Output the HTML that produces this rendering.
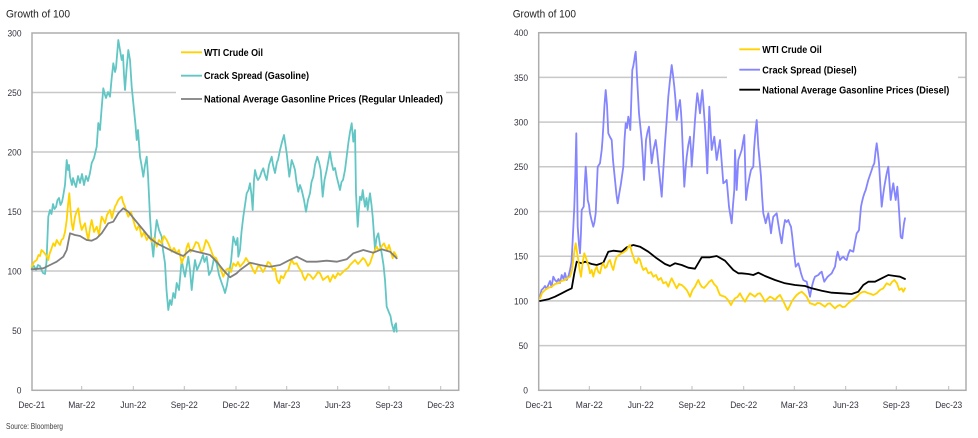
<!DOCTYPE html>
<html><head><meta charset="utf-8"><style>
html,body{margin:0;padding:0;background:#fff;}
svg{display:block;font-family:"Liberation Sans",Arial,sans-serif;}
.tk{font-size:9.5px;fill:#33333f;}
.lg{font-size:10px;font-weight:bold;fill:#000;}
.ln{fill:none;stroke-linejoin:round;stroke-linecap:round;}
</style></head><body>
<svg width="978" height="438" viewBox="0 0 978 438" xmlns="http://www.w3.org/2000/svg">
<rect width="978" height="438" fill="#fff"/>

<!-- ================= LEFT CHART ================= -->
<text x="6" y="17.3" font-size="11" fill="#222" textLength="64" lengthAdjust="spacingAndGlyphs">Growth of 100</text>
<g stroke="#c8c8c8" stroke-width="1.5">
<line x1="32" y1="92.5" x2="458.7" y2="92.5"/>
<line x1="32" y1="152" x2="458.7" y2="152"/>
<line x1="32" y1="211.5" x2="458.7" y2="211.5"/>
<line x1="32" y1="271" x2="458.7" y2="271"/>
<line x1="32" y1="330.7" x2="458.7" y2="330.7"/>
</g>
<rect x="32" y="33" width="426.7" height="357.3" fill="none" stroke="#adadad" stroke-width="1.5"/>
<g stroke="#bdbdbd" stroke-width="1">
<line x1="81.7" y1="386" x2="81.7" y2="390"/><line x1="133.3" y1="386" x2="133.3" y2="390"/>
<line x1="184.3" y1="386" x2="184.3" y2="390"/><line x1="236" y1="386" x2="236" y2="390"/>
<line x1="286.7" y1="386" x2="286.7" y2="390"/><line x1="337.7" y1="386" x2="337.7" y2="390"/>
<line x1="389" y1="386" x2="389" y2="390"/><line x1="440.7" y1="386" x2="440.7" y2="390"/>
</g>
<g class="tk" text-anchor="end">
<text x="21.5" y="36.4" textLength="14" lengthAdjust="spacingAndGlyphs">300</text>
<text x="21.5" y="95.9" textLength="14" lengthAdjust="spacingAndGlyphs">250</text>
<text x="21.5" y="155.4" textLength="14" lengthAdjust="spacingAndGlyphs">200</text>
<text x="21.5" y="214.9" textLength="14" lengthAdjust="spacingAndGlyphs">150</text>
<text x="21.5" y="274.4" textLength="14" lengthAdjust="spacingAndGlyphs">100</text>
<text x="21.5" y="334.1" textLength="9.4" lengthAdjust="spacingAndGlyphs">50</text>
<text x="21.5" y="393.7" textLength="4.7" lengthAdjust="spacingAndGlyphs">0</text>
</g>
<g class="tk" text-anchor="middle">
<text x="31.7" y="408" textLength="26.7" lengthAdjust="spacingAndGlyphs">Dec-21</text>
<text x="81.7" y="408" textLength="27" lengthAdjust="spacingAndGlyphs">Mar-22</text>
<text x="133.3" y="408" textLength="26" lengthAdjust="spacingAndGlyphs">Jun-22</text>
<text x="184.3" y="408" textLength="27" lengthAdjust="spacingAndGlyphs">Sep-22</text>
<text x="236" y="408" textLength="27" lengthAdjust="spacingAndGlyphs">Dec-22</text>
<text x="286.7" y="408" textLength="27" lengthAdjust="spacingAndGlyphs">Mar-23</text>
<text x="337.7" y="408" textLength="26" lengthAdjust="spacingAndGlyphs">Jun-23</text>
<text x="389" y="408" textLength="27" lengthAdjust="spacingAndGlyphs">Sep-23</text>
<text x="440.7" y="408" textLength="27" lengthAdjust="spacingAndGlyphs">Dec-23</text>
</g>

<!-- teal crack spread gasoline -->
<polyline class="ln" stroke="#62c6c4" stroke-width="1.8" points="31.7,268 34,266 36,270 38,265 40,266 42,271 43,273 45,274 46.5,262 48.3,216.7 50,210 51.5,214 53,204 54.5,209 56,207 57.5,200 59,198 60.5,205 62,202 63,197 65,185 66.7,160 68,170 69,165 70,176.7 72,185 73,178 74.5,183 76,187 78,176 80,183 82,174 84,185 86,176 88,181 90,173 91.7,163 94,158 96.7,146.7 98.3,123 100,130 101.5,110 103.3,88.3 105,95 106,98 108,92 110,96.7 111.5,80 113.3,63.3 115,72 116,68 118.3,40 120,50 121.7,60 123,55 124,75 125,90 126.5,70 128.3,50 130,60 131.7,86.7 134,110 135.5,125 136.7,140 138,130 140,156.7 141.5,165 143.3,176.7 145,165 146.7,156.7 148,175 150,216.7 151.5,240 153.3,256.7 155,235 156.7,220 159,230 161.7,236.7 163,250 165,263.3 166.5,290 168.3,310 170,300 171.5,305 173.3,293 175,298 176.7,283 179,290 181.7,260 183.5,270 185,276.7 188.3,256.7 190,270 191.7,290 193.5,272 195,260 197,270 200,263.3 203,255 204.5,262 206.7,256.7 209,275 211.7,270 214,258 216.7,263.3 219,275 221.7,283 223.5,288 225,293 227,285 228.3,276.7 231,262 233.3,236.7 236,245 237.5,238 238.3,256.7 240,250 241.5,232 243.3,216.7 245,205 246.7,193.3 248.5,190 250,183.3 251.5,195 252.7,210 254,180 255,170 257,178 258,180 260,176.7 261.5,172 263.3,168.3 265,175 266.7,180 269,165 271.7,156.7 273,165 275,173 277,162 278,160 280,150 282,142 284,135 285.5,145 286.7,153.3 288,165 289.3,176.7 291.7,160 293.5,165 295,170 296.5,182 298.3,191.7 300,185 301.7,190 304,200 306,211.7 308,200 310,193.3 311.5,182 313.3,176.7 315,165 317.3,156.7 319,162 320.7,170 322.7,196.7 324.5,180 326.7,170 328.5,160 330,151.7 331.5,162 333.3,170 335,168 336.7,176.7 338.5,184 340,190 341.5,182 343,180 345,170 346.5,158 348.3,143.3 350,132 351.7,123.3 353.3,141.7 355,130 356,193.3 357.7,226.7 359,208 360,196.7 361.5,200 362.7,190 364,200 365,206.7 366.5,198 367.7,210 369,200 370,193.3 371.5,205 372.7,216.7 374,235 375,250 376.5,238 378.3,233.3 380,245 381.7,253.3 383.5,265 385,280 386.7,306.7 388,310 389.3,313.3 390.5,316 391.7,323.3 393,328 394,331.7 395,325 396,323.3 396.7,331.7"/>
<!-- yellow WTI -->
<polyline class="ln" stroke="#ffd200" stroke-width="1.8" points="31.7,266.7 34,262 36.7,260 38.5,255 40,256 41.5,250 43.3,251.7 46,255 48.3,260 49.5,254 51,250 53.3,243.3 55,246 56.7,240 58.5,243 60,245 61.5,240 63.3,238.3 65,232 66.7,220 68,205 69.3,193.3 70.5,210 71.7,223.3 73,230 75,216.7 76.5,212 78.3,208.3 80,222 81.7,230 83.5,226 85,223.3 86.5,232 88.3,240 90,228 91.7,220 94,232 96.7,226.7 99,235 100.5,224 101.7,216.7 103.5,220 105,223.3 107,215 110,210 112,218 113.5,212 115,206.7 116.5,204 118.3,200 120,198 121.7,196.7 123,202 125,206.7 126.5,212 128.3,216.7 131,212 133.3,220 135,226 136.7,230 139,225 141.7,236.7 144,232 146.7,240 149,236 151.7,241.7 154,238 156.7,246.7 159,240 161.7,243.3 164,236 166.7,240 169,245 171.7,251.7 174,248 176.7,253.3 179,250 181.7,263.3 183.5,258 185,256.7 186.5,248 188.3,243.3 190.5,252 193.3,248.3 196,242 198.3,243.3 201,252 203.3,250 206,240 208.3,243.3 211,250 213.3,256.7 216,258 218.3,263.3 221,270 223.3,276.7 226,270 228.3,268.3 231,272 233.3,263.3 236,266 238,262 240,266.7 244,262 246,258 248.3,261.7 251,265 253,270 255,273.3 258,266 260,266.7 263,272 265,268.3 268,262 270,263.3 273,270 275,268.3 277,280 279.3,283.3 281,276 283.3,278.3 286,272 288.3,270 290,264 291.7,260 294,264 296.7,263.3 299,268 301.7,271.7 303,276 305,280 308,274 310,275 313,279 315,276.7 318,272 320,273.3 323,280 325,278.3 328,276 330,281.7 333,275 335,278.3 338,273 340,275 343,272 345,270 348,268 350,265 353,262 355,260 358,264 360,261.7 363,258 365,260 368,266 370,263.3 373.3,253.3 375,250 376.7,246.7 378.5,250 380.7,248.3 382.5,245 384,243.3 385.5,247 387.3,250 389,245 390,248.3 391.5,254 392.7,258.3 394,252 395,253.3 396.7,256.7"/>
<!-- gray national avg -->
<polyline class="ln" stroke="#7f7f7f" stroke-width="1.8" points="31.7,269.3 43.3,268.3 50,265 56.7,261.7 63.3,256.7 66.7,250 70,233.3 75,235 80,236 86.7,240 91.7,240.7 96.7,238.3 101.7,233.3 108.3,223.3 113.3,221.7 118.3,213.3 123.3,208.3 128.3,211.7 135,220 143.3,230 150,238.3 156.7,243.3 166.7,248.3 176.7,253.3 183.3,256 190,250 196.7,251.7 203.3,253.3 210,255 216.7,261.7 223.3,270 230,277.3 236.7,273.3 240,270 250,262.7 260,265 270,266.7 280,265 288.3,260.7 296.7,256.7 306.7,261.7 316.7,261.7 326.7,260.7 336.7,261.7 346.7,259.3 353.3,253.3 363.3,250 373.3,252.7 381.7,249.3 390,251.7 396.7,258.3"/>

<!-- legend left -->
<rect x="176" y="40" width="270" height="66" fill="#fff"/>
<line x1="181" y1="52.3" x2="202" y2="52.3" stroke="#ffd200" stroke-width="1.8"/>
<line x1="181" y1="75.7" x2="202" y2="75.7" stroke="#62c6c4" stroke-width="1.8"/>
<line x1="181" y1="99" x2="202" y2="99" stroke="#7f7f7f" stroke-width="1.8"/>
<text class="lg" x="204" y="55.9" textLength="59" lengthAdjust="spacingAndGlyphs">WTI Crude Oil</text>
<text class="lg" x="204" y="79.2" textLength="105" lengthAdjust="spacingAndGlyphs">Crack Spread (Gasoline)</text>
<text class="lg" x="204" y="102.4" textLength="239" lengthAdjust="spacingAndGlyphs">National Average Gasonline Prices (Regular Unleaded)</text>

<text x="6" y="429" font-size="8" fill="#444" textLength="57" lengthAdjust="spacingAndGlyphs">Source: Bloomberg</text>

<!-- ================= RIGHT CHART ================= -->
<text x="512.7" y="17.3" font-size="11" fill="#222" textLength="63.3" lengthAdjust="spacingAndGlyphs">Growth of 100</text>
<g stroke="#c8c8c8" stroke-width="1.5">
<line x1="538.7" y1="77.4" x2="966" y2="77.4"/>
<line x1="538.7" y1="122.1" x2="966" y2="122.1"/>
<line x1="538.7" y1="166.8" x2="966" y2="166.8"/>
<line x1="538.7" y1="211.5" x2="966" y2="211.5"/>
<line x1="538.7" y1="256.2" x2="966" y2="256.2"/>
<line x1="538.7" y1="300.9" x2="966" y2="300.9"/>
<line x1="538.7" y1="345.6" x2="966" y2="345.6"/>
</g>
<rect x="538.7" y="32.7" width="427.3" height="357.6" fill="none" stroke="#adadad" stroke-width="1.5"/>
<g stroke="#bdbdbd" stroke-width="1">
<line x1="589.3" y1="386" x2="589.3" y2="390"/><line x1="640.7" y1="386" x2="640.7" y2="390"/>
<line x1="692" y1="386" x2="692" y2="390"/><line x1="743.7" y1="386" x2="743.7" y2="390"/>
<line x1="794.3" y1="386" x2="794.3" y2="390"/><line x1="845.7" y1="386" x2="845.7" y2="390"/>
<line x1="896.3" y1="386" x2="896.3" y2="390"/><line x1="948.7" y1="386" x2="948.7" y2="390"/>
</g>
<g class="tk" text-anchor="end">
<text x="528" y="36.1" textLength="14" lengthAdjust="spacingAndGlyphs">400</text>
<text x="528" y="80.8" textLength="14" lengthAdjust="spacingAndGlyphs">350</text>
<text x="528" y="125.5" textLength="14" lengthAdjust="spacingAndGlyphs">300</text>
<text x="528" y="170.2" textLength="14" lengthAdjust="spacingAndGlyphs">250</text>
<text x="528" y="214.9" textLength="14" lengthAdjust="spacingAndGlyphs">200</text>
<text x="528" y="259.6" textLength="14" lengthAdjust="spacingAndGlyphs">150</text>
<text x="528" y="304.3" textLength="14" lengthAdjust="spacingAndGlyphs">100</text>
<text x="528" y="349" textLength="9.4" lengthAdjust="spacingAndGlyphs">50</text>
<text x="528" y="393.7" textLength="4.7" lengthAdjust="spacingAndGlyphs">0</text>
</g>
<g class="tk" text-anchor="middle">
<text x="539" y="408" textLength="26.7" lengthAdjust="spacingAndGlyphs">Dec-21</text>
<text x="589.3" y="408" textLength="27" lengthAdjust="spacingAndGlyphs">Mar-22</text>
<text x="640.7" y="408" textLength="26" lengthAdjust="spacingAndGlyphs">Jun-22</text>
<text x="692" y="408" textLength="27" lengthAdjust="spacingAndGlyphs">Sep-22</text>
<text x="743.7" y="408" textLength="27" lengthAdjust="spacingAndGlyphs">Dec-22</text>
<text x="794.3" y="408" textLength="27" lengthAdjust="spacingAndGlyphs">Mar-23</text>
<text x="845.7" y="408" textLength="26" lengthAdjust="spacingAndGlyphs">Jun-23</text>
<text x="896.3" y="408" textLength="27" lengthAdjust="spacingAndGlyphs">Sep-23</text>
<text x="948.7" y="408" textLength="27" lengthAdjust="spacingAndGlyphs">Dec-23</text>
</g>

<!-- purple crack spread diesel -->
<polyline class="ln" stroke="#8585ff" stroke-width="1.8" points="540,296.7 541.5,290 543.3,288.3 545,286 546.5,289 548.3,285 550,281 551.5,287 553.3,276.7 555,280 556.7,281.7 558.5,279 560,283 561.7,275 563.5,279 565,273 566.7,280 568.5,276 570,270 571.5,262 572.7,240 574.3,206.7 575.3,175 576.3,133.3 577,180 577.7,226.7 579,245 580,253.3 581,232 581.7,210 583.7,206.7 584.7,185 585.7,166.7 586.7,180 587.7,200 589,205 590,213.3 591.5,220 593.3,226.7 594.5,222 595.7,213.3 596.7,190 597.7,166.7 600,163.3 601.7,150 602.5,140 603.3,126.7 604.5,105 605.7,90 607,105 608.3,133.3 610,137 611.7,140 613,160 615,180 616.5,195 617.7,203.3 619,195 621,183.3 623.3,166.7 624.5,140 625.7,123.3 627,128 628.3,116.7 629.3,122 630.3,130 631.3,100 632.3,70 633.3,66 634.3,60 635,55 635.7,51.7 636.3,62 637,76.7 638,95 639,113.3 640.3,126 641.7,140 643,160 644,180 645,160 646,140 647.5,132 649,126.7 650.3,145 651.7,163.3 653.5,150 655.7,140 657,150 658.3,163.3 660,180 661.7,196.7 663.3,170 665,143.3 666.7,120 668.3,96.7 670,80 671.7,65 673,75 674.3,86.7 675.5,100 676.7,120 678.3,108 680,100 681,112 681.7,123.3 683,155 684.3,186.7 685.5,170 686.7,156.7 688.3,145 690,136.7 691,150 691.7,166.7 693.3,145 695,120 696.2,105 697.3,93.3 698.7,103 700,113.3 701.2,100 702.3,90 703.7,108 705,126.7 706.2,150 707.3,173.3 708.3,140 709.3,106.7 710.5,128 711.7,150 713,143 714.3,136.7 715.5,148 716.7,160 718.3,150 720,140 721.7,162 723.3,183.3 725,182 726.7,180 728,195 729,206.7 730.3,215 731.7,223.3 733,205 734.3,190 735,150 736.7,190 738.3,160 740,155 741.7,150 743,142 744.3,135 745,160 746,200 747,192 748.3,183.3 749.7,176 751,170 753.3,166.7 754,150 755,136.7 756,126 756.7,120 757.5,133 758.3,146.7 759.7,162 761,176.7 762,195 763.3,213.3 764.5,218 765.7,223.3 767,218 768.3,213.3 769.7,223 771,233.3 772,225 773.3,216.7 775,215 776.7,213.3 778,222 779.3,230 780.5,237 781.7,243.3 783.3,230 785,220 786.7,222 788.3,220 789.7,224 791,226.7 792.2,236 793.3,246.7 794.5,257 795.7,266.7 798.3,263.3 799.7,268 801,273.3 802.2,277 803.3,280 805,281 806.7,281.7 808.3,289 810,296.7 811.2,290 812.3,285 813.7,280 815,276.7 818.3,275 820,273 821.7,271.7 823,277 824.3,281.7 826,279 827.7,276.7 829.7,275 831.7,273.3 833.3,270 835,266.7 836.3,258 837.7,251.7 838.8,256 840,260 841.7,258 843.3,256.7 845,259 846.7,260 848.3,254 850,250 851.7,251 853.3,251.7 855,242 856.7,233.3 857.8,232 859,230 860,218 861,206.7 862.2,201 863.3,196.7 864.5,193 865.7,190 867,185 868.3,180 870,175 871.7,170 873,166 874.3,163.3 875.5,152 876.7,143.3 877.8,152 879,163.3 880.3,185 881.7,206.7 883,196 884.3,186.7 885.5,180 886.7,173.3 888.3,166.7 889.5,183 890.7,200 892,191 893.3,183.3 894.5,192 895.7,200 897.3,186.7 898.2,198 899,210 899.8,223 900.7,236.7 901.5,238 902.3,238.3 903.2,230 904,223.3 905,218.3"/>
<!-- black national avg diesel -->
<polyline class="ln" stroke="#000" stroke-width="1.8" points="540,301 548.3,299.3 555,296.7 561.7,293.3 566.7,290.7 571.7,288.3 574.3,273.3 576.7,261.7 581.7,263.3 585,261.7 591.7,264 596.7,265 603.3,262.7 608.3,251.7 613.3,250.7 621.7,251.7 626.7,247.3 633.3,245 640,246.7 648.3,251.7 656.7,258.3 665,264 670,266 675,263.3 681.7,265 688.3,267.7 695,268.7 701.7,257.3 710,257.3 716.7,256 725,260.7 733.3,270 738.3,273.3 741.7,273.3 748.3,274 753.3,275 758.3,272.7 765,276 775,280 785,283.3 795,285 805,286 811.7,288.3 821.7,290.7 831.7,292.7 841.7,293.3 851.7,294 858.3,291.7 863.3,285 868.3,281.7 875,281.7 881.7,278.3 888.3,275 895,276 900,276.7 905,279"/>
<!-- yellow WTI right -->
<polyline class="ln" stroke="#ffd200" stroke-width="1.8" points="540,298.3 542,293 545,290 548,288 551.7,286.7 555,284 558.3,283.3 561.5,281 565,280 567.5,278 570,276.7 572,270 573.3,260 574.5,250 575.7,243.3 577,252 578.3,260 579.7,270 581,276.7 582.7,262 584.3,253.3 586,258 587.7,263.3 589,268 590,273.3 591.7,270 593.3,276.7 595,270 596.7,266.7 598.3,272 600,273.3 601.7,266 603.3,263.3 605,268 606.7,266.7 608.3,262 610,260 611.7,266 613.3,270 615,262 616.7,256.7 619,255 621.7,253.3 624,252 626.7,250 628.3,247 630,245 631.7,252 633.3,256.7 635,262 636.7,263.3 638.3,258 640,260 641.7,266 643.3,270 646,268 648.3,273.3 651,272 653.3,276.7 656,275 658.3,280 661,278 663.3,283.3 666,282 668.3,286.7 670,282 671.7,278.3 674,283 676.7,288.3 679,284 681.7,285 684,287 686.7,290 688.3,293 690,296.7 692.5,290 695,286.7 696.7,283 698.3,280 700,284 701.7,286.7 704,288 706.7,285 709,282 711.7,280 714,284 716.7,286.7 718.3,291 720,295 722.5,296 725,296.7 728,300 731,305 733,301 735,298.3 737.5,297 740,293.3 742.5,298 745,301.7 747.5,297 750,293.3 752.5,295 755,296.7 757.5,294 760,293.3 762.5,297 765,301.7 767.5,299 770,296.7 772.5,298 775,300 777.5,297 780,295 782.2,299 784.3,303.3 786,307 787.7,310 789.7,306 791.7,301.7 794.2,298 796.7,295 799.2,293 801.7,291.7 804.2,294 806.7,296.7 808.3,300 810,303.3 812.5,304 815,305 817.5,303 820,303.3 822.5,305 825,306.7 827.5,304 830,303.3 832.5,306 835,308.3 837.5,306 840,305 842.5,307 845,306.7 847.5,304 850,301.7 852.5,300 855,298.3 857.5,296 860,293.3 862.5,292 865,291.7 868.3,293.3 871,294 873.3,295 876.7,293.3 880,290 883.3,288.3 886.7,283.3 890,285 892,282 894.3,280 897,283.3 899.3,290 901.7,288.3 903.3,291.7 905,288.3"/>

<!-- legend right -->
<rect x="727" y="38" width="231" height="60" fill="#fff"/>
<line x1="739.3" y1="49.3" x2="760" y2="49.3" stroke="#ffd200" stroke-width="1.8"/>
<line x1="739.3" y1="69.7" x2="760" y2="69.7" stroke="#8585ff" stroke-width="1.8"/>
<line x1="739.3" y1="89.7" x2="760" y2="89.7" stroke="#000" stroke-width="1.8"/>
<text class="lg" x="762.3" y="52.9" textLength="59.4" lengthAdjust="spacingAndGlyphs">WTI Crude Oil</text>
<text class="lg" x="762.3" y="73.3" textLength="94.4" lengthAdjust="spacingAndGlyphs">Crack Spread (Diesel)</text>
<text class="lg" x="762.3" y="93.3" textLength="187" lengthAdjust="spacingAndGlyphs">National Average Gasonline Prices (Diesel)</text>
</svg>
</body></html>
